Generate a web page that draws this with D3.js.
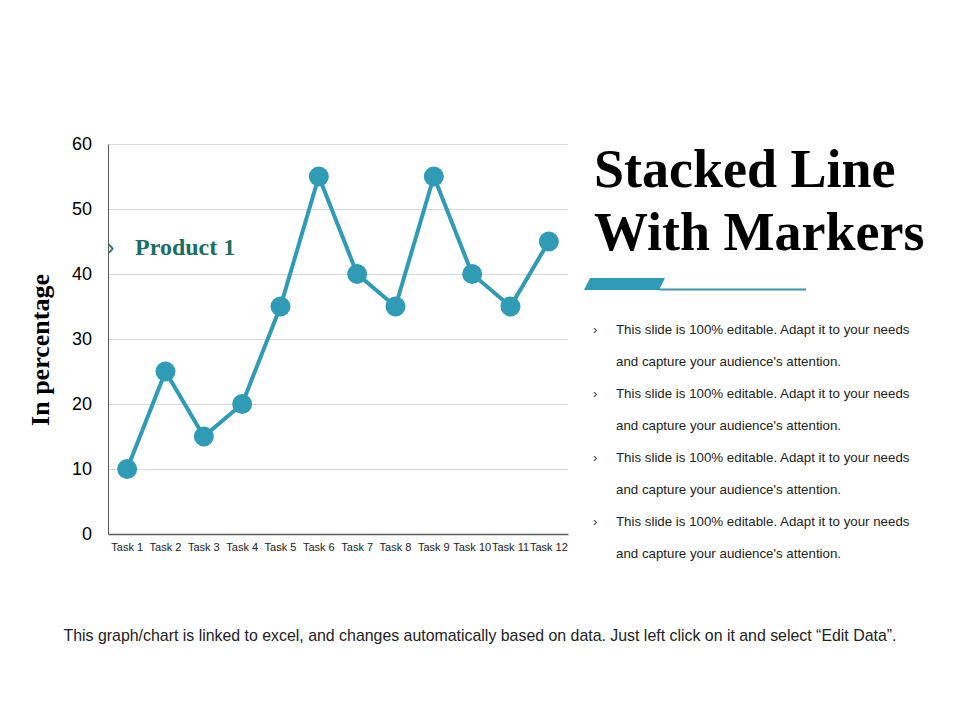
<!DOCTYPE html>
<html>
<head>
<meta charset="utf-8">
<script src="https://cdn.jsdelivr.net/npm/d3@7"></script>
<style>
  body { margin: 0; background: #fff; }
</style>
</head>
<body>
<div id="chart"></div>
<script>
// Chart data
const tasks = ["Task 1", "Task 2", "Task 3", "Task 4", "Task 5", "Task 6",
               "Task 7", "Task 8", "Task 9", "Task 10", "Task 11", "Task 12"];
const product1 = [10, 25, 15, 20, 35, 55, 40, 35, 55, 40, 35, 45];
const yTicks = [0, 10, 20, 30, 40, 50, 60];
const bullets = [
    ["This slide is 100% editable. Adapt it to your needs", "and capture your audience's attention."],
    ["This slide is 100% editable. Adapt it to your needs", "and capture your audience's attention."],
    ["This slide is 100% editable. Adapt it to your needs", "and capture your audience's attention."],
    ["This slide is 100% editable. Adapt it to your needs", "and capture your audience's attention."]
];

const teal = "#2f9bb5";
const serif = "'Liberation Serif', 'Times New Roman', serif";
const sans = "'Liberation Sans', Arial, sans-serif";

const svg = d3.select("#chart")
    .append("svg")
    .attr("width", 960)
    .attr("height", 720);

// Plot area
const margin = { top: 144, left: 108 };
const width = 460;
const height = 390;

const g = svg.append("g")
    .attr("transform", `translate(${margin.left}, ${margin.top})`);

// Scales
const xScale = d3.scaleBand().domain(tasks).range([0, width]);
const yScale = d3.scaleLinear().domain([0, 60]).range([height, 0]);

// Gridlines
g.append("g")
    .call(d3.axisLeft(yScale).tickValues(yTicks.filter(d => d > 0)).tickSize(-width).tickFormat(""))
    .call(s => s.select(".domain").remove())
    .call(s => s.selectAll("line").attr("stroke", "#d9d9d9"));

// Y axis
g.append("g")
    .call(d3.axisLeft(yScale).tickValues(yTicks).tickSize(0).tickPadding(16))
    .call(s => s.select(".domain").attr("stroke", "#595959"))
    .call(s => s.selectAll("text")
        .attr("font-family", sans)
        .attr("font-size", 18)
        .attr("fill", "#000"));

// X axis
g.append("g")
    .attr("transform", `translate(0, ${height})`)
    .call(d3.axisBottom(xScale).tickSize(0).tickPadding(9))
    .call(s => s.select(".domain").attr("stroke", "#595959").attr("stroke-width", 1.3))
    .call(s => s.selectAll("text")
        .attr("font-family", sans)
        .attr("font-size", 11)
        .attr("fill", "#222"));

// Y axis label
svg.append("text")
    .attr("transform", "translate(49, 350) rotate(-90)")
    .attr("text-anchor", "middle")
    .attr("font-family", serif)
    .attr("font-weight", "bold")
    .attr("font-size", 26)
    .attr("fill", "#000")
    .text("In percentage");

// Line
const lineGenerator = d3.line()
    .x((d, i) => xScale(tasks[i]) + xScale.bandwidth() / 2)
    .y(d => yScale(d));

g.append("path")
    .datum(product1)
    .attr("fill", "none")
    .attr("stroke", teal)
    .attr("stroke-width", 4)
    .attr("stroke-linejoin", "round")
    .attr("d", lineGenerator);

// Markers
g.selectAll(".marker")
    .data(product1)
    .enter()
    .append("circle")
    .attr("class", "marker")
    .attr("cx", (d, i) => xScale(tasks[i]) + xScale.bandwidth() / 2)
    .attr("cy", d => yScale(d))
    .attr("r", 10)
    .attr("fill", teal);

// Legend
svg.append("text")
    .attr("x", 107)
    .attr("y", 255)
    .attr("font-family", sans)
    .attr("font-size", 22)
    .attr("fill", "#1d6e62")
    .text("›");

svg.append("text")
    .attr("x", 135)
    .attr("y", 255)
    .attr("font-family", serif)
    .attr("font-weight", "bold")
    .attr("font-size", 24)
    .attr("fill", "#1d6e62")
    .text("Product 1");

// Title
const title = svg.append("text")
    .attr("font-family", serif)
    .attr("font-weight", "bold")
    .attr("font-size", 54)
    .attr("fill", "#000");
title.append("tspan").attr("x", 594).attr("y", 187).text("Stacked Line");
title.append("tspan").attr("x", 594).attr("y", 250).text("With Markers");

// Decorative underline
svg.append("path")
    .attr("d", "M590,278 L665,278 L659,290 L584,290 Z")
    .attr("fill", teal);
svg.append("line")
    .attr("x1", 659).attr("x2", 806)
    .attr("y1", 289.5).attr("y2", 289.5)
    .attr("stroke", "#3a96a8")
    .attr("stroke-width", 2);

// Bullets
bullets.forEach((lines, i) => {
    const y = 334 + i * 64;
    svg.append("text")
        .attr("x", 593)
        .attr("y", y)
        .attr("font-family", sans)
        .attr("font-size", 13)
        .attr("fill", "#333")
        .text("›");
    lines.forEach((line, j) => {
        svg.append("text")
            .attr("x", 616)
            .attr("y", y + j * 32)
            .attr("font-family", sans)
            .attr("font-size", 13.3)
            .attr("fill", "#222")
            .text(line);
    });
});

// Footer
svg.append("text")
    .attr("x", 480)
    .attr("y", 641)
    .attr("text-anchor", "middle")
    .attr("font-family", sans)
    .attr("font-size", 15.9)
    .attr("fill", "#222")
    .text("This graph/chart is linked to excel, and changes automatically based on data. Just left click on it and select \u201cEdit Data\u201d.");
</script>
</body>
</html>
